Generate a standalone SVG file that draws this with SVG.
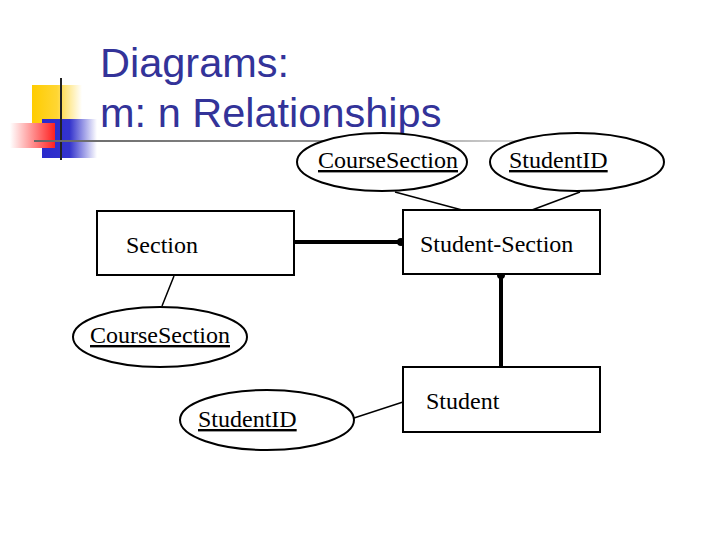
<svg xmlns="http://www.w3.org/2000/svg" width="720" height="540" viewBox="0 0 720 540">
<defs>
<linearGradient id="gy" x1="0" x2="1" y1="0" y2="0"><stop offset="0" stop-color="#ffcc00"/><stop offset="0.5" stop-color="#ffd633"/><stop offset="1" stop-color="#ffffff"/></linearGradient>
<linearGradient id="gr" x1="1" x2="0" y1="0" y2="0"><stop offset="0" stop-color="#ff2020"/><stop offset="1" stop-color="#ffffff"/></linearGradient>
<linearGradient id="gb" x1="0" x2="1" y1="0" y2="0"><stop offset="0" stop-color="#2a2acc"/><stop offset="0.5" stop-color="#3333cc"/><stop offset="1" stop-color="#ffffff"/></linearGradient>
<linearGradient id="gl" x1="0" x2="1" y1="0" y2="0"><stop offset="0" stop-color="#666666"/><stop offset="0.6" stop-color="#999999"/><stop offset="1" stop-color="#ffffff"/></linearGradient>
<style>
.t{font-family:"Liberation Serif","Times New Roman",serif;font-size:24px;fill:#000}
.u{text-decoration:underline}
.box{fill:#fff;stroke:#000;stroke-width:2}
.ell{fill:#fff;stroke:#000;stroke-width:2}
.thin{stroke:#000;stroke-width:1.5;fill:none}
.thick{stroke:#000;stroke-width:4;fill:none}
.title{font-family:"Liberation Sans",Arial,sans-serif;font-size:41.5px;fill:#333399}
</style>
</defs>
<rect width="720" height="540" fill="#fff"/>
<g id="logo">
<rect x="32" y="85" width="50" height="38" fill="url(#gy)"/>
<rect x="42" y="119" width="55" height="39" fill="url(#gb)"/>
<rect x="10" y="123" width="45" height="25" fill="url(#gr)"/>
<line x1="61" y1="78" x2="61" y2="160" stroke="#222" stroke-width="2"/>
<rect x="34" y="140" width="580" height="2" fill="url(#gl)"/>
</g>
<g id="title">
<text class="title" x="100" y="77">Diagrams:</text>
<text class="title" x="100" y="127">m: n Relationships</text>
</g>
<g id="connectors">
<line class="thin" x1="395" y1="192" x2="462" y2="210"/>
<line class="thin" x1="580" y1="192" x2="532" y2="210"/>
<line class="thick" x1="295" y1="242" x2="400" y2="242"/>
<circle cx="401" cy="242" r="4" fill="#000"/>
<line class="thick" x1="501" y1="274" x2="501" y2="367"/>
<circle cx="501" cy="275" r="4" fill="#000"/>
<line class="thin" x1="174" y1="276" x2="162" y2="306"/>
<line class="thin" x1="354" y1="418" x2="403" y2="402"/>
</g>
<g id="ell-top-coursesection">
<ellipse class="ell" cx="382" cy="162" rx="85" ry="29"/>
<text class="t u" x="318" y="168">CourseSection</text>
</g>
<g id="ell-top-studentid">
<ellipse class="ell" cx="577" cy="162" rx="87" ry="29"/>
<text class="t u" x="509" y="168">StudentID</text>
</g>
<g id="student-section">
<rect class="box" x="403" y="210" width="197" height="64"/>
<text class="t" x="420" y="252">Student-Section</text>
</g>
<g id="section">
<rect class="box" x="97" y="211" width="197" height="64"/>
<text class="t" x="126" y="253">Section</text>
</g>
<g id="ell-coursesection">
<ellipse class="ell" cx="160" cy="337" rx="87" ry="30"/>
<text class="t u" x="90" y="343">CourseSection</text>
</g>
<g id="ell-studentid">
<ellipse class="ell" cx="267" cy="420" rx="87" ry="30"/>
<text class="t u" x="198" y="427">StudentID</text>
</g>
<g id="student">
<rect class="box" x="403" y="367" width="197" height="65"/>
<text class="t" x="426" y="409">Student</text>
</g>
</svg>
